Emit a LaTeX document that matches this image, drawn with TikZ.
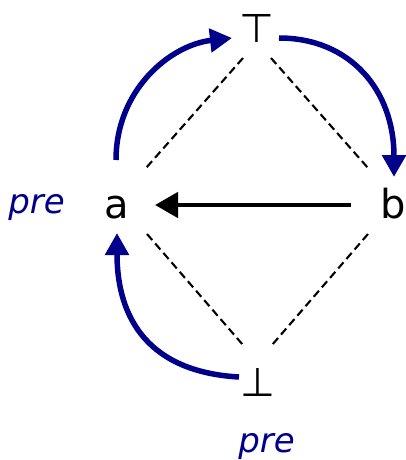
\documentclass[tikz,border=0pt]{standalone}
\usepackage{fontspec}
\setmainfont{DejaVu Sans}
\usetikzlibrary{arrows.meta,calc}
\definecolor{navyblue}{RGB}{0,0,139}
\tikzset{
  lbl/.style={inner sep=0pt, anchor=base, font=\fontsize{40}{48}\selectfont},
  prelbl/.style={inner sep=0pt, anchor=base, text=navyblue, font=\fontsize{34}{40}\selectfont\itshape},
  dashline/.style={draw=black, line width=2.1pt, dash pattern=on 8pt off 4.5pt},
  blackarrow/.style={draw=black, line width=4.6pt, -{Triangle[length=23pt,width=25pt]}},
  bluearrow/.style={draw=navyblue, line width=5.5pt, -{Triangle[length=22pt,width=23pt]}}
}
\begin{document}
\begin{tikzpicture}[x=1pt,y=-1pt]
\useasboundingbox (0,0) rectangle (405,460);
\node[lbl] (T) at (257,42) {⊤};
\node[lbl] (a) at (117,218) {a};
\node[lbl] (b) at (393,218) {b};
\node[lbl] (B) at (258,396) {⊥};
\node[prelbl] (p1) at (36.5,213) {pre};
\node[prelbl] (p2) at (266.5,452) {pre};
% dashed lattice lines
\draw[dashline] ($(T.base)+(-14,16)$) -- ($(a.base)+(29,-50)$);
\draw[dashline] ($(T.base)+(14,16)$) -- ($(b.base)+(-25,-50)$);
\draw[dashline] ($(a.base)+(30,16)$) -- ($(B.base)+(-15,-51)$);
\draw[dashline] ($(b.base)+(-25,16)$) -- ($(B.base)+(14,-51)$);
% black arrow
\draw[blackarrow] ($(b.base)+(-42,-13)$) -- ($(a.base)+(38,-13)$);
% blue arrows
\draw[bluearrow] ($(a.base)+(-1,-58)$) .. controls +(0,-70) and +(-62,7) .. ($(T.base)+(-25,-4)$);
\draw[bluearrow] ($(T.base)+(22,-4)$) .. controls +(71,0) and +(0,-87) .. ($(b.base)+(1,-41)$);
\draw[bluearrow] ($(B.base)+(-19,-19)$) .. controls +(-89,-5) and +(0,87) .. ($(a.base)+(0,15)$);
\end{tikzpicture}
\end{document}
